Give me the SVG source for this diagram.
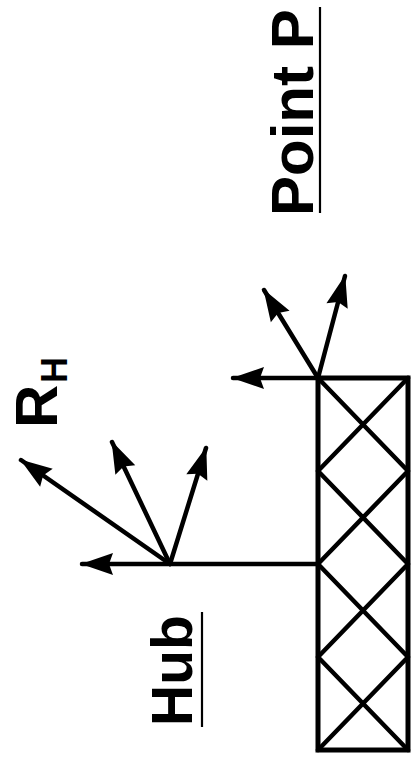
<svg xmlns="http://www.w3.org/2000/svg" width="411" height="771" viewBox="0 0 411 771">
<style>
.lbl{font-family:"Liberation Sans",Arial,sans-serif;font-weight:bold;fill:#000}
.ln{stroke:#000;stroke-width:4.5;fill:none;stroke-linecap:round}
.ul{stroke:#000;stroke-width:2.2;fill:none}
</style>
<defs>
<marker id="ah" viewBox="0 0 32 22" refX="31" refY="11" markerWidth="32" markerHeight="22" markerUnits="userSpaceOnUse" orient="auto" overflow="visible">
<path d="M0,0 L32,11 L0,22 L4,11 Z" fill="#000"/>
</marker>
</defs>
<rect width="411" height="771" fill="#fff"/>
<g id="beam">
<rect x="318" y="378" width="90" height="372" fill="none" stroke="#000" stroke-width="5"/>
<path class="ln" d="M318,378 L408,471 M408,378 L318,471 M318,471 L408,564 M408,471 L318,564 M318,564 L408,657 M408,564 L318,657 M318,657 L408,750 M408,657 L318,750"/>
</g>
<g id="connectors">
<line class="ln" x1="318" y1="564" x2="82" y2="564" marker-end="url(#ah)"/>
<line class="ln" x1="170" y1="564" x2="21" y2="460" marker-end="url(#ah)"/>
<line class="ln" x1="170" y1="564" x2="112" y2="442" marker-end="url(#ah)"/>
<line class="ln" x1="170" y1="564" x2="206" y2="448" marker-end="url(#ah)"/>
<line class="ln" x1="318" y1="378" x2="233" y2="378" marker-end="url(#ah)"/>
<line class="ln" x1="318" y1="378" x2="264" y2="290" marker-end="url(#ah)"/>
<line class="ln" x1="318" y1="378" x2="345" y2="276" marker-end="url(#ah)"/>
</g>
<g id="pointP">
<text class="lbl" font-size="60" transform="translate(313,216) rotate(-90)">Point P</text>
<line class="ul" x1="320" y1="7" x2="320" y2="213"/>
</g>
<g id="hub">
<text class="lbl" font-size="57" transform="translate(192,726) rotate(-90)">Hub</text>
<line class="ul" x1="202" y1="612" x2="202" y2="727"/>
</g>
<g id="RH">
<text class="lbl" font-size="60" transform="translate(57,428) rotate(-90)">R</text>
<text class="lbl" font-size="36" transform="translate(67,383) rotate(-90)">H</text>
</g>
</svg>
